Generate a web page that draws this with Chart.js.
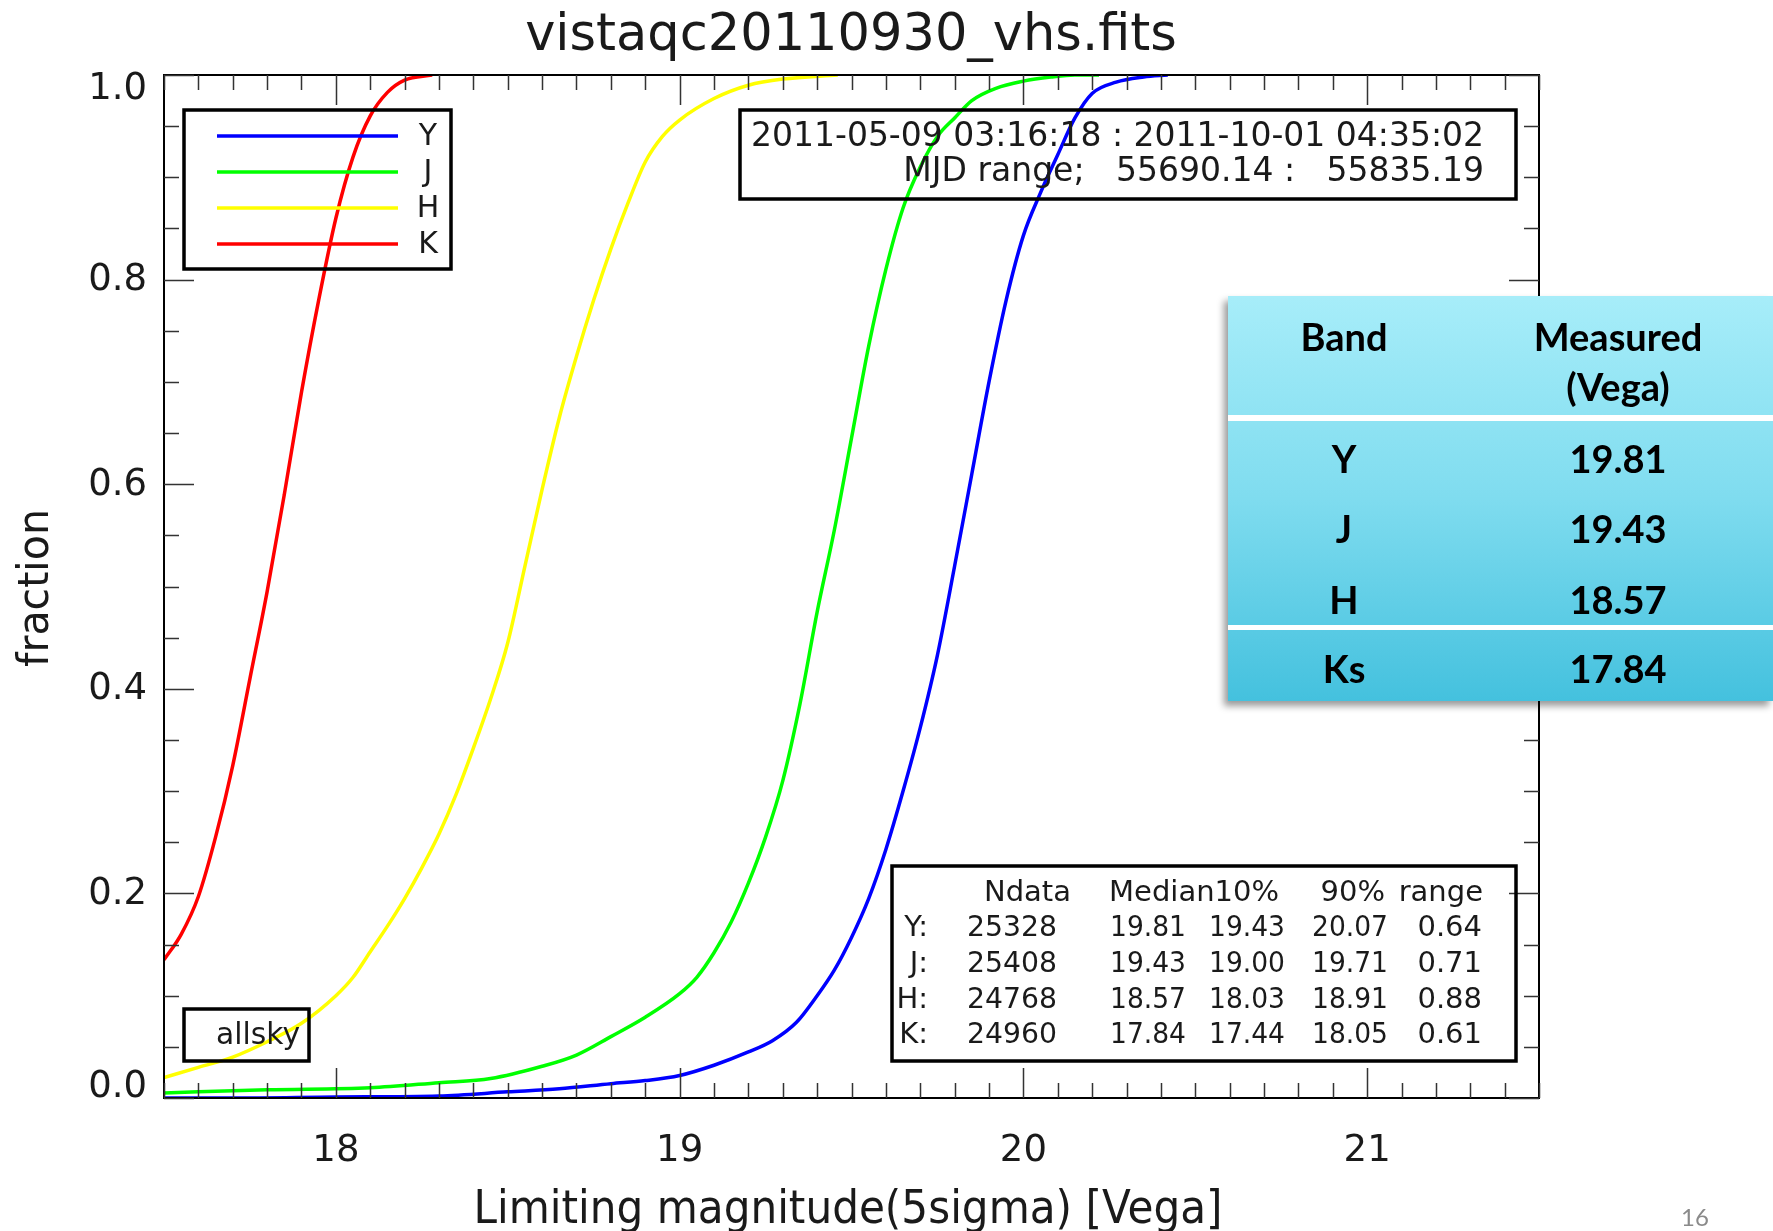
<!DOCTYPE html>
<html>
<head>
<meta charset="utf-8">
<title>vistaqc20110930_vhs.fits</title>
<script src="https://cdn.jsdelivr.net/npm/chart.js@4.4.1/dist/chart.umd.min.js"></script>
<style>
  html, body { margin: 0; padding: 0; background: #fff; }
  #wrap { position: relative; width: 1773px; height: 1231px; overflow: hidden; }
  #wrap canvas { position: absolute; left: 0; top: 0; }
  #vega {
    position: absolute; left: 1228px; top: 296px; width: 545px; height: 405px;
    background: linear-gradient(#a7edf9, #7fdcef 50%, #44c1de);
    box-shadow: -4px 5px 7px rgba(0, 0, 0, 0.4);
    font-family: Lato, 'Open Sans', sans-serif; font-weight: bold; font-size: 38px; color: #000;
  }
  #vega .c { position: absolute; transform: translate(-50%, -50%); line-height: 1; white-space: nowrap; }
  #vega .sep { position: absolute; left: 0; width: 100%; background: #fff; }
  #page { position: absolute; left: 1681px; top: 1202px; font: 24px Lato, sans-serif; color: #8a8a8a; }
</style>
</head>
<body>
<div id="wrap">
  <canvas id="chart" width="1773" height="1231"></canvas>
  <div id="vega"></div>
  <div id="page">16</div>
</div>
<script>
// cumulative fraction vs limiting magnitude
const magY  = [17.50, 17.70, 18.00, 18.30, 18.50, 18.65, 18.80, 18.90, 19.00, 19.10, 19.20, 19.27, 19.34, 19.40, 19.45, 19.50, 19.55, 19.60, 19.65, 19.70, 19.75, 19.80, 19.85, 19.90, 19.95, 20.00, 20.05, 20.10, 20.15, 20.20, 20.27, 20.35, 20.42];
const fracY = [0.000, 0.000, 0.001, 0.002, 0.006, 0.009, 0.014, 0.017, 0.022, 0.032, 0.045, 0.056, 0.074, 0.100, 0.125, 0.157, 0.195, 0.243, 0.300, 0.362, 0.433, 0.520, 0.610, 0.700, 0.780, 0.843, 0.885, 0.922, 0.958, 0.982, 0.993, 0.998, 1.000];

const magJ  = [17.50, 17.80, 18.10, 18.30, 18.45, 18.60, 18.70, 18.80, 18.90, 19.00, 19.05, 19.10, 19.15, 19.20, 19.25, 19.30, 19.35, 19.40, 19.45, 19.50, 19.55, 19.60, 19.65, 19.70, 19.75, 19.80, 19.85, 19.92, 20.00, 20.08, 20.15, 20.22];
const fracJ = [0.005, 0.008, 0.010, 0.015, 0.019, 0.031, 0.042, 0.060, 0.079, 0.102, 0.118, 0.142, 0.172, 0.210, 0.255, 0.310, 0.385, 0.475, 0.555, 0.645, 0.735, 0.810, 0.870, 0.910, 0.940, 0.958, 0.975, 0.987, 0.994, 0.998, 1.000, 1.000];

const magH  = [17.50, 17.60, 17.70, 17.80, 17.90, 18.00, 18.05, 18.10, 18.15, 18.20, 18.25, 18.30, 18.35, 18.40, 18.45, 18.50, 18.55, 18.60, 18.65, 18.70, 18.75, 18.80, 18.85, 18.90, 18.95, 19.00, 19.10, 19.20, 19.30, 19.46];
const fracH = [0.020, 0.030, 0.040, 0.055, 0.073, 0.100, 0.118, 0.143, 0.168, 0.195, 0.225, 0.258, 0.297, 0.342, 0.390, 0.445, 0.520, 0.595, 0.665, 0.725, 0.780, 0.830, 0.875, 0.915, 0.940, 0.956, 0.977, 0.990, 0.996, 1.000];

const magK  = [17.50, 17.55, 17.60, 17.65, 17.70, 17.75, 17.80, 17.85, 17.90, 17.95, 18.00, 18.05, 18.10, 18.15, 18.20, 18.28];
const fracK = [0.135, 0.160, 0.197, 0.255, 0.325, 0.410, 0.495, 0.590, 0.690, 0.780, 0.860, 0.920, 0.960, 0.983, 0.995, 1.000];

const bands = ['Y', 'J', 'H', 'K'];
const bandColors = ['#0000ff', '#00ff00', '#ffff00', '#ff0000'];

// statistics box
const statHeader = ['Ndata', 'Median', '10%', '90%', 'range'];
const ndata  = ['25328', '25408', '24768', '24960'];
const median = ['19.81', '19.43', '18.57', '17.84'];
const p10    = ['19.43', '19.00', '18.03', '17.44'];
const p90    = ['20.07', '19.71', '18.91', '18.05'];
const spread = ['0.64', '0.71', '0.88', '0.61'];

const dateLine = '2011-05-09 03:16:18 : 2011-10-01 04:35:02';
const mjdLine  = 'MJD range;   55690.14 :   55835.19';

// table on the right
const vegaBands    = ['Y', 'J', 'H', 'Ks'];
const vegaMeasured = ['19.81', '19.43', '18.57', '17.84'];

const xTicks = { min: 17.5, max: 21.5, step: 0.1 };
const yTicks = { min: 0, max: 1, step: 0.05 };

const font = "'DejaVu Sans', sans-serif";
const ink = '#1a1a1a';

function toPoints(xs, ys) {
    return xs.map((x, i) => ({ x: x, y: ys[i] }));
}

const isMajorX = v => Math.abs(v - Math.round(v)) < 1e-6;
const isMajorY = v => Math.round(v * 100) % 20 === 0;

// IDL-style frame, inward ticks and annotation boxes
const idlPlot = {
    id: 'idlPlot',
    afterDraw(chart) {
        const { ctx, chartArea: a, scales } = chart;
        ctx.save();
        ctx.strokeStyle = '#000';
        ctx.lineWidth = 2;
        ctx.strokeRect(a.left, a.top, a.right - a.left, a.bottom - a.top);

        ctx.strokeStyle = '#333';
        ctx.lineWidth = 1.5;
        ctx.beginPath();
        scales.x.ticks.forEach(t => {
            const px = Math.round(scales.x.getPixelForValue(t.value)) + 0.5;
            const len = isMajorX(t.value) ? 30 : 15;
            ctx.moveTo(px, a.bottom); ctx.lineTo(px, a.bottom - len);
            ctx.moveTo(px, a.top); ctx.lineTo(px, a.top + len);
        });
        scales.y.ticks.forEach(t => {
            const py = Math.round(scales.y.getPixelForValue(t.value)) + 0.5;
            const len = isMajorY(t.value) ? 30 : 15;
            ctx.moveTo(a.left, py); ctx.lineTo(a.left + len, py);
            ctx.moveTo(a.right, py); ctx.lineTo(a.right - len, py);
        });
        ctx.stroke();

        ctx.fillStyle = ink;
        // y tick labels, end labels kept inside the frame like IDL does
        ctx.font = '37px ' + font;
        ctx.textAlign = 'right';
        ctx.textBaseline = 'middle';
        scales.y.ticks.forEach(t => {
            if (!isMajorY(t.value)) return;
            let py = scales.y.getPixelForValue(t.value);
            py = Math.min(Math.max(py, a.top + 13), a.bottom - 12);
            ctx.fillText(t.value.toFixed(1), 147, py + 1);
        });

        // title
        ctx.textAlign = 'center';
        ctx.textBaseline = 'alphabetic';
        ctx.font = '51px ' + font;
        ctx.fillText('vistaqc20110930_vhs.fits', 851, 50, 667);
        // axis titles
        ctx.font = '46px ' + font;
        ctx.fillText('Limiting magnitude(5sigma) [Vega]', 848, 1223, 749);
        ctx.save();
        ctx.translate(48, 588);
        ctx.rotate(-Math.PI / 2);
        ctx.font = '42px ' + font;
        ctx.fillText('fraction', 0, 0, 158);
        ctx.restore();

        // boxes
        ctx.strokeStyle = '#000';
        ctx.lineWidth = 3.5;
        ctx.strokeRect(184, 110, 267, 159);
        ctx.strokeRect(740, 110, 776, 89);
        ctx.strokeRect(892, 866, 624, 195);
        ctx.strokeRect(184, 1009, 125, 52);

        // legend
        ctx.lineWidth = 3.5;
        ctx.font = '30px ' + font;
        ctx.textBaseline = 'middle';
        bands.forEach((b, i) => {
            const y = 136 + i * 36;
            ctx.strokeStyle = bandColors[i];
            ctx.beginPath(); ctx.moveTo(217, y); ctx.lineTo(398, y); ctx.stroke();
            ctx.fillText(b, 428, y + 1);
        });

        // allsky
        ctx.textAlign = 'left';
        ctx.fillText('allsky', 216, 1036, 84);

        // date / MJD range
        ctx.font = '33px ' + font;
        ctx.textAlign = 'right';
        ctx.fillText(dateLine, 1484, 137, 733);
        ctx.fillText(mjdLine, 1484, 172);

        // statistics
        ctx.font = '29px ' + font;
        const rowY = [893, 928, 964, 1000, 1035];
        ctx.fillText(statHeader[0], 1071, rowY[0]);
        ctx.fillText(statHeader[1] + statHeader[2], 1279, rowY[0]);
        ctx.fillText(statHeader[3], 1385, rowY[0]);
        ctx.fillText(statHeader[4], 1483, rowY[0]);
        bands.forEach((b, i) => {
            const y = rowY[i + 1];
            ctx.fillText(b + ':', 928, y);
            ctx.fillText(ndata[i], 1057, y, 90);
            ctx.fillText(median[i], 1186, y, 76);
            ctx.fillText(p10[i], 1285, y, 76);
            ctx.fillText(p90[i], 1388, y, 76);
            ctx.fillText(spread[i], 1482, y);
        });
        ctx.restore();
    }
};

const mags = [magY, magJ, magH, magK];
const fracs = [fracY, fracJ, fracH, fracK];

const chart = new Chart(document.getElementById('chart'), {
    type: 'scatter',
    data: {
        datasets: bands.map((b, i) => ({
            label: b,
            data: toPoints(mags[i], fracs[i]),
            showLine: true,
            borderColor: bandColors[i],
            backgroundColor: bandColors[i],
            borderWidth: 3.5,
            pointRadius: 0,
            cubicInterpolationMode: 'monotone'
        }))
    },
    options: {
        responsive: false,
        animation: false,
        layout: { padding: { top: 75, right: 234, left: 0, bottom: 0 } },
        plugins: { legend: { display: false }, tooltip: { enabled: false } },
        scales: {
            x: {
                type: 'linear',
                min: xTicks.min, max: xTicks.max,
                afterFit: s => { s.height = 133; },
                border: { display: false },
                grid: { display: false, drawTicks: false },
                ticks: {
                    stepSize: xTicks.step,
                    autoSkip: false, maxRotation: 0, minRotation: 0,
                    padding: 31,
                    color: ink,
                    font: { family: font, size: 37 },
                    callback: v => isMajorX(v) ? String(Math.round(v)) : ''
                }
            },
            y: {
                type: 'linear',
                min: yTicks.min, max: yTicks.max,
                afterFit: s => { s.width = 164; },
                border: { display: false },
                grid: { display: false, drawTicks: false },
                ticks: {
                    stepSize: yTicks.step,
                    autoSkip: false,
                    display: false
                }
            }
        }
    },
    plugins: [idlPlot]
});

// measured-depth table
const vega = document.getElementById('vega');
function cell(text, x, y) {
    const d = document.createElement('div');
    d.className = 'c';
    d.style.left = x + 'px';
    d.style.top = y + 'px';
    d.textContent = text;
    vega.appendChild(d);
}
function sep(y, h) {
    const d = document.createElement('div');
    d.className = 'sep';
    d.style.top = y + 'px';
    d.style.height = h + 'px';
    vega.appendChild(d);
}
cell('Band', 116, 40);
cell('Measured', 390, 40);
cell('(Vega)', 390, 90);
sep(119, 6);
sep(329, 5);
const rowCenters = [162, 232, 303, 372];
vegaBands.forEach((b, i) => {
    cell(b, 116, rowCenters[i]);
    cell(vegaMeasured[i], 390, rowCenters[i]);
});
</script>
</body>
</html>
